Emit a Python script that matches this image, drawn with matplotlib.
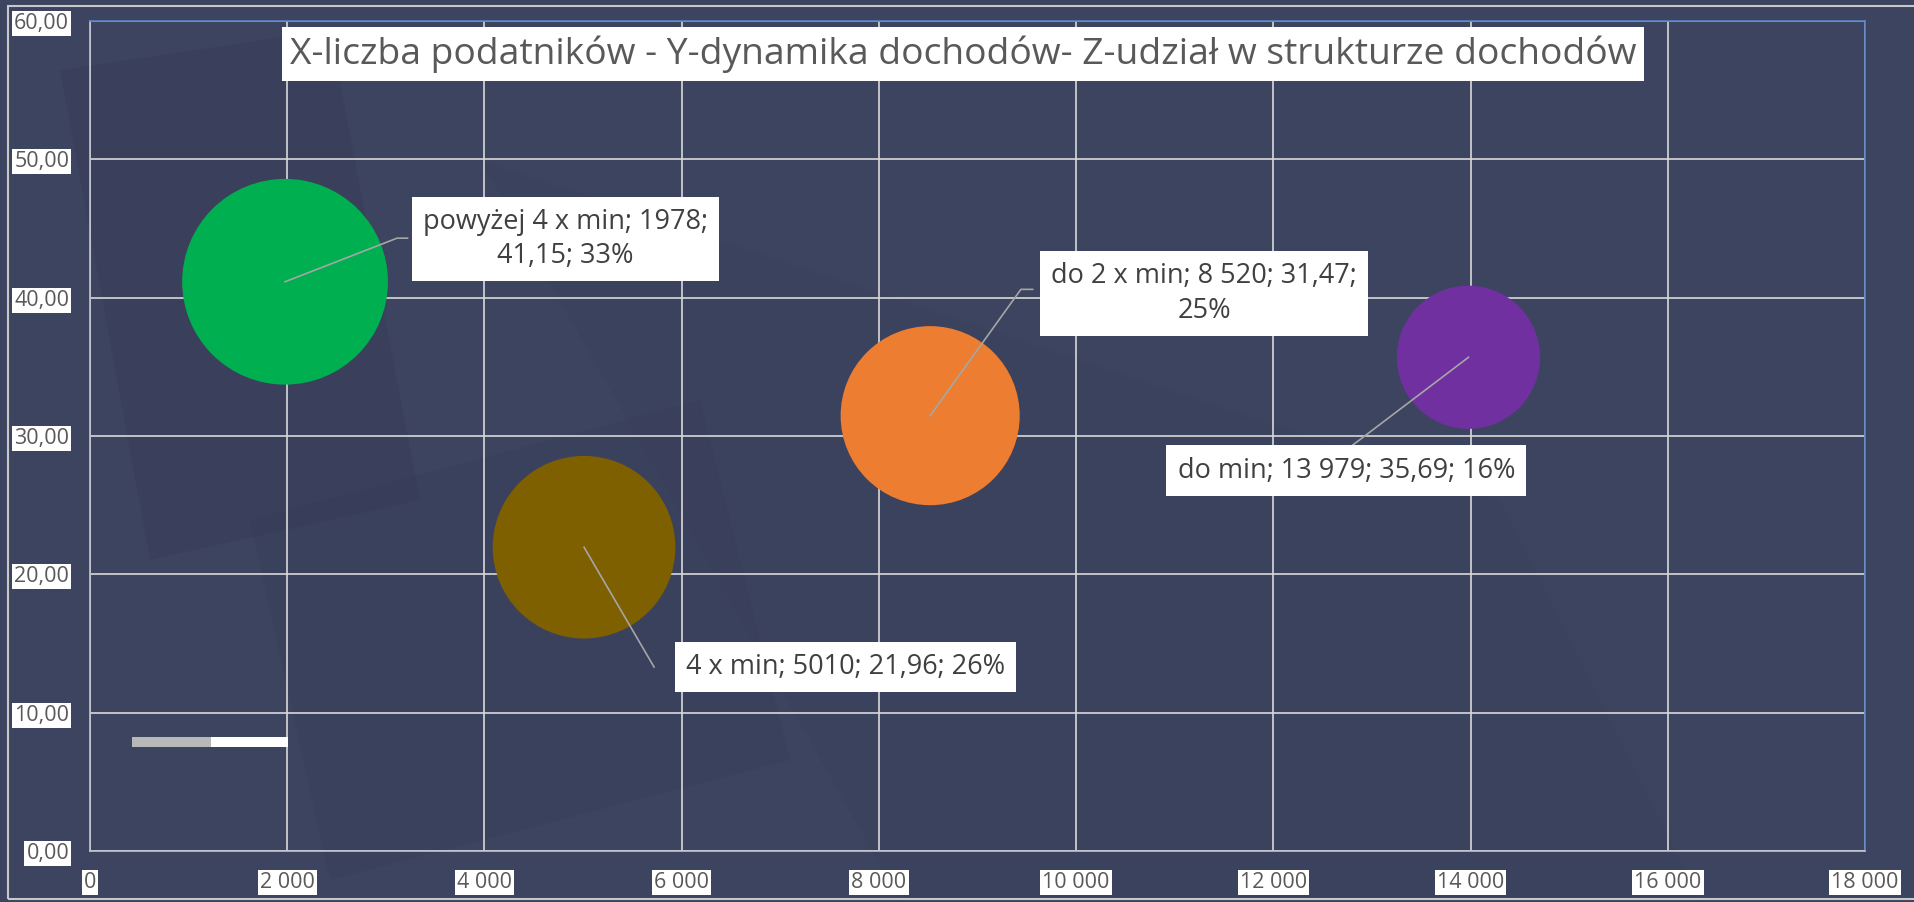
import matplotlib.pyplot as plt
from matplotlib.patches import Rectangle, Polygon
from matplotlib.ticker import FuncFormatter

# data: X = liczba podatników, Y = dynamika dochodów, Z = udział w strukturze dochodów
groups = ["powyżej 4 x min", "4 x min", "do 2 x min", "do min"]
taxpayers = [1978, 5010, 8520, 13979]
income_dyn = [41.15, 21.96, 31.47, 35.69]
income_share = [33, 26, 25, 16]
colors = ["#00B050", "#7F6000", "#ED7D31", "#7030A0"]

x_ticks = list(range(0, 18001, 2000))
y_ticks = list(range(0, 61, 10))

title = "X-liczba podatników - Y-dynamika dochodów- Z-udział w strukturze dochodów"

# label box centres and leader end points (data coords), per group
label_pos = [(4820, 44.25), (7660, 13.3), (11300, 40.3), (12740, 27.5)]
leader_end = [[(3113, 44.3), (3220, 44.3)],
              [(5720, 13.3)],
              [(9440, 40.6), (9560, 40.6)],
              [(12760, 29.1)]]

BG = "#3d4460"
GRID = "#d9d9d9"
TXT = "#595959"
FONT = "Open Sans"

W, H = 1915, 902
fig = plt.figure(figsize=(W / 100, H / 100), dpi=100, facecolor=BG)


def fx(px):
    return px / W


def fy(py):
    return 1 - py / H


# faint background shapes
for pts, c in [
    ([(60, 70), (330, 30), (420, 500), (150, 560)], "#353b55"),
    ([(250, 520), (700, 400), (790, 760), (330, 880)], "#363c56"),
    ([(480, 160), (1500, 500), (1700, 900), (900, 900)], "#3a405b"),
]:
    fig.patches.append(Polygon([(fx(a), fy(b)) for a, b in pts], closed=True,
                               transform=fig.transFigure, facecolor=c,
                               edgecolor="none", alpha=0.35, zorder=-10))

# outer chart border
fig.patches.append(Rectangle((fx(8), fy(899)), fx(1915 - 8 + 10), fy(6) - fy(899),
                             transform=fig.transFigure, fill=False,
                             edgecolor="#c8c8c8", linewidth=1.5, zorder=-5))

ax = fig.add_axes([fx(90), fy(851), fx(1865 - 90), fy(21) - fy(851)])
ax.set_facecolor("none")
ax.set_xlim(0, 18000)
ax.set_ylim(0, 60)
ax.set_xticks(x_ticks)
ax.set_yticks(y_ticks)
ax.grid(True, color=GRID, linewidth=1.2, zorder=1)
ax.set_axisbelow(True)

ax.xaxis.set_major_formatter(FuncFormatter(lambda v, p: f"{int(v):,}".replace(",", " ")))
ax.yaxis.set_major_formatter(FuncFormatter(lambda v, p: f"{v:.2f}".replace(".", ",")))
ax.tick_params(length=0, labelsize=15.5, labelcolor=TXT)
ax.tick_params(axis="y", pad=15)
ax.tick_params(axis="x", pad=15)
for lab in ax.get_xticklabels() + ax.get_yticklabels():
    lab.set_fontfamily(FONT)
    lab.set_bbox(dict(facecolor="white", edgecolor="none", pad=1.5))

for side in ["left", "bottom"]:
    ax.spines[side].set_color("#c0c4d0")
    ax.spines[side].set_linewidth(1.2)
for side in ["top", "right"]:
    ax.spines[side].set_color("#5b82c8")
    ax.spines[side].set_linewidth(1.2)

# bubbles: area proportional to Z
sizes = [665 * z for z in income_share]
ax.scatter(taxpayers, income_dyn, s=sizes, c=colors, edgecolors="none", zorder=3)

# data labels
for i, g in enumerate(groups):
    x, y, z = taxpayers[i], income_dyn[i], income_share[i]
    xs_tick = f"{x:,}".replace(",", " ") if x >= 8000 else str(x)
    ys = f"{y:.2f}".replace(".", ",")
    txt = f"{g}; {xs_tick}; {ys}; {z}%"
    if i == 0:
        txt = f"{g}; {xs_tick};\n{ys}; {z}%"
    elif i == 2:
        txt = f"{g}; {xs_tick}; {ys};\n{z}%"
    pts = [(x, y)] + leader_end[i]
    ax.plot([p[0] for p in pts], [p[1] for p in pts], color="#a6a6a6",
            linewidth=1.2, zorder=4)
    lx, ly = label_pos[i]
    ax.text(lx, ly, txt, ha="center", va="center", multialignment="center",
            fontsize=19.5, color="#404040", fontfamily=FONT, zorder=5,
            linespacing=1.3,
            bbox=dict(facecolor="white", edgecolor="none", pad=8))

# small bar at bottom left
fig.patches.append(Rectangle((fx(132), fy(747)), fx(79), fy(737) - fy(747),
                             transform=fig.transFigure, facecolor="#b8b8b8",
                             edgecolor="none", zorder=6))
fig.patches.append(Rectangle((fx(211), fy(747)), fx(77), fy(737) - fy(747),
                             transform=fig.transFigure, facecolor="white",
                             edgecolor="none", zorder=6))

fig.text(fx(963), fy(54), title, ha="center", va="center", fontsize=26.8,
         color=TXT, fontfamily=FONT,
         bbox=dict(facecolor="white", edgecolor="none", pad=6))

fig.savefig("out.png", dpi=100, facecolor=BG)
